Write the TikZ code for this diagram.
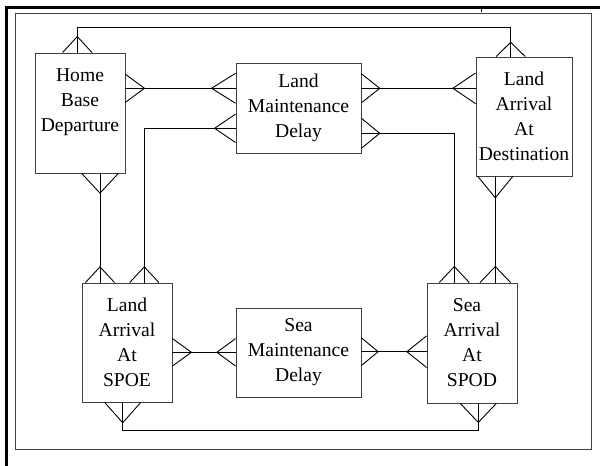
\documentclass[tikz,border=0pt]{standalone}
\usepackage{fontspec}
\setmainfont{Liberation Serif}
\begin{document}
\begin{tikzpicture}[x=1pt,y=1pt,
  box/.style={draw=black!75, line width=0.9pt, inner sep=0pt, align=center, font=\fontsize{19.6pt}{25pt}\selectfont},
  link/.style={draw=black, line width=0.9pt},
  frame/.style={draw=black!75, line width=1pt},
  heavy/.style={draw=black, line width=3pt},
  pics/crow/.style args={#1/#2}{code={\draw[link] (-#2,0) -- (0,#1) -- (#2,0);}}
]
\useasboundingbox (0,0) rectangle (600,466);
% outer frame
\draw[heavy] (5,458.5) -- (600,458.5);
\draw[heavy] (6.5,459) -- (6.5,0);
\draw[frame] (15,452) rectangle (591.7,16);
\draw[line width=1.6pt] (481.5,457) -- (481.5,454);

% boxes
\node[box, minimum width=90pt, minimum height=120pt] (hbd) at (80,353) {Home\\Base\\Departure\\\mbox{}};
\node[box, minimum width=125pt, minimum height=90pt] (lmd) at (298.5,358) {Land\\Maintenance\\Delay};
\node[box, minimum width=96pt, minimum height=119pt] (laad) at (524,349.5) {Land\\Arrival\\At\\Destination};
\node[box, minimum width=90pt, minimum height=119pt] (spoe) at (127,123.5) {Land\\Arrival\\At\\SPOE};
\node[box, minimum width=125pt, minimum height=89pt] (smd) at (298.5,113.5) {Sea\\Maintenance\\Delay};
\node[box, minimum width=90pt, minimum height=120pt] (spod) at (472,123) {Sea\hspace*{10pt}\\Arrival\\At\\SPOD};

% connector 1: top
\coordinate (a1) at (hbd.north -| 77.3,0);
\coordinate (b1) at (laad.north -| 510.7,0);
\draw[link] (a1) -- (a1 |- 0,438.7) -- (b1 |- 0,438.7) -- (b1);
\pic at (a1) {crow=16/14.7};
\pic at (b1) {crow=14.3/14.5};

% connector 2: hbd - lmd
\coordinate (a2) at (hbd.east |- 0,377.7);
\coordinate (b2) at (lmd.west |- 0,377.7);
\draw[link] (a2) -- (b2);
\pic[rotate=-90] at (a2) {crow=19/14};
\pic[rotate=90] at (b2) {crow=24/15};

% connector 3: lmd - laad
\coordinate (a3) at (lmd.east |- 0,377.7);
\coordinate (b3) at (laad.west |- 0,377.7);
\draw[link] (a3) -- (b3);
\pic[rotate=-90] at (a3) {crow=18.3/14.5};
\pic[rotate=90] at (b3) {crow=22.7/15.3};

% connector 4: lmd - spoe
\coordinate (a4) at (lmd.west |- 0,337.7);
\coordinate (b4) at (spoe.north -| 144.3,0);
\draw[link] (a4) -- (a4 -| b4) -- (b4);
\pic[rotate=90] at (a4) {crow=21/14.2};
\pic at (b4) {crow=15.7/14.6};

% connector 5: hbd - spoe
\coordinate (a5) at (hbd.south -| 100,0);
\coordinate (b5) at (spoe.north -| 100,0);
\draw[link] (a5) -- (b5);
\pic[rotate=180] at (a5) {crow=19.7/18.3};
\pic at (b5) {crow=15.7/14.5};

% connector 6: lmd - spod
\coordinate (a6) at (lmd.east |- 0,332.7);
\coordinate (b6) at (spod.north -| 454.3,0);
\draw[link] (a6) -- (a6 -| b6) -- (b6);
\pic[rotate=-90] at (a6) {crow=18.3/15};
\pic at (b6) {crow=16/15};

% connector 7: laad - spod
\coordinate (a7) at (laad.south -| 495.3,0);
\coordinate (b7) at (spod.north -| 495.3,0);
\draw[link] (a7) -- (b7);
\pic[rotate=180] at (a7) {crow=21.3/17.5};
\pic at (b7) {crow=16/15.3};

% connector 8: spoe - smd
\coordinate (a8) at (spoe.east |- 0,113.7);
\coordinate (b8) at (smd.west |- 0,113.7);
\draw[link] (a8) -- (b8);
\pic[rotate=-90] at (a8) {crow=19/13.7};
\pic[rotate=90] at (b8) {crow=18.7/13.7};

% connector 9: smd - spod
\coordinate (a9) at (smd.east |- 0,114.3);
\coordinate (b9) at (spod.west |- 0,114.3);
\draw[link] (a9) -- (b9);
\pic[rotate=-90] at (a9) {crow=16.7/13.8};
\pic[rotate=90] at (b9) {crow=19.7/15.8};

% connector 10: bottom
\coordinate (a10) at (spoe.south -| 122.7,0);
\coordinate (b10) at (spod.south -| 478.3,0);
\draw[link] (a10) -- (a10 |- 0,35.3) -- (b10 |- 0,35.3) -- (b10);
\pic[rotate=180] at (a10) {crow=20.3/18};
\pic[rotate=180] at (b10) {crow=19/18};
\end{tikzpicture}
\end{document}
